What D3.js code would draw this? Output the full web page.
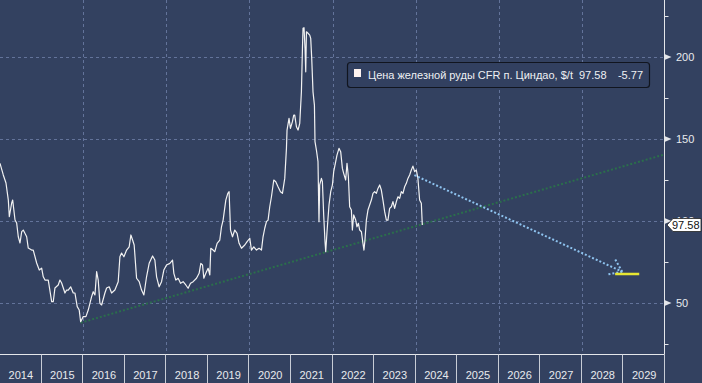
<!DOCTYPE html>
<html><head><meta charset="utf-8">
<script src="https://cdn.jsdelivr.net/npm/d3@7"></script>
<style>
html,body{margin:0;padding:0;background:#334160;}
svg{display:block;}
text{font-family:"Liberation Sans",Arial,sans-serif;}
</style></head>
<body>
<svg id="chart" width="702" height="383"></svg>
<script>
// ---- data (decimal year, $/t) ----
const years = [2014.000,2014.079,2014.144,2014.200,2014.224,2014.281,2014.305,2014.361,2014.401,2014.440,2014.481,2014.522,2014.560,2014.642,2014.680,2014.762,2014.800,2014.882,2014.945,2015.002,2015.041,2015.082,2015.161,2015.243,2015.281,2015.322,2015.401,2015.442,2015.483,2015.563,2015.603,2015.642,2015.700,2015.762,2015.803,2015.858,2015.906,2015.940,2016.002,2016.067,2016.123,2016.204,2016.243,2016.284,2016.325,2016.363,2016.404,2016.445,2016.524,2016.565,2016.627,2016.685,2016.764,2016.844,2016.885,2016.925,2016.981,2017.046,2017.108,2017.149,2017.190,2017.228,2017.286,2017.349,2017.406,2017.462,2017.526,2017.589,2017.671,2017.726,2017.767,2017.829,2017.887,2017.942,2018.007,2018.087,2018.151,2018.183,2018.231,2018.286,2018.344,2018.406,2018.471,2018.526,2018.584,2018.647,2018.728,2018.791,2018.832,2018.873,2018.904,2018.952,2019.007,2019.048,2019.072,2019.127,2019.168,2019.224,2019.288,2019.329,2019.368,2019.433,2019.481,2019.512,2019.546,2019.594,2019.649,2019.704,2019.752,2019.810,2019.889,2019.945,2020.010,2020.050,2020.106,2020.171,2020.233,2020.291,2020.329,2020.370,2020.411,2020.450,2020.490,2020.531,2020.587,2020.635,2020.690,2020.748,2020.796,2020.851,2020.892,2020.906,2020.954,2020.988,2021.036,2021.067,2021.091,2021.132,2021.171,2021.212,2021.252,2021.277,2021.291,2021.315,2021.339,2021.356,2021.373,2021.411,2021.452,2021.476,2021.500,2021.531,2021.565,2021.579,2021.613,2021.651,2021.675,2021.692,2021.733,2021.757,2021.788,2021.820,2021.837,2021.868,2021.916,2021.957,2021.998,2022.029,2022.077,2022.108,2022.156,2022.197,2022.238,2022.269,2022.317,2022.349,2022.382,2022.413,2022.454,2022.478,2022.510,2022.558,2022.589,2022.623,2022.654,2022.695,2022.733,2022.757,2022.781,2022.815,2022.853,2022.894,2022.935,2022.974,2023.014,2023.055,2023.094,2023.135,2023.175,2023.214,2023.255,2023.296,2023.334,2023.375,2023.416,2023.454,2023.495,2023.536,2023.575,2023.615,2023.656,2023.695,2023.736,2023.776,2023.815,2023.856,2023.897,2023.935,2023.976,2024.017,2024.055,2024.096,2024.137,2024.161];
const prices = [135.2,128.1,123.2,112.8,102.6,111.0,112.8,100.6,98.8,90.4,86.6,93.5,94.5,90.4,83.5,82.3,82.3,74.4,70.1,71.3,66.0,64.0,64.0,50.8,50.8,59.2,61.0,64.0,62.2,56.1,57.9,57.9,59.9,56.1,56.1,47.8,45.7,38.6,41.7,41.7,45.7,53.9,56.9,54.9,69.1,64.0,49.8,48.8,56.1,59.2,59.9,56.1,57.9,63.0,78.2,80.5,78.2,82.3,84.3,91.5,88.4,85.4,65.1,63.0,57.9,54.9,66.0,74.2,78.7,76.2,66.0,59.9,63.0,70.1,73.2,74.2,76.2,68.1,64.0,65.1,62.0,63.0,61.0,59.0,62.0,63.0,65.1,68.1,74.2,73.2,65.1,68.1,71.2,67.1,83.4,82.3,81.3,86.4,88.4,96.5,100.6,112.8,116.9,117.9,94.5,90.4,94.5,92.5,86.4,83.4,85.4,87.4,89.5,82.3,84.3,82.3,83.4,82.3,90.4,95.6,99.6,100.6,108.7,114.8,125.0,124.0,120.9,117.9,116.9,126.0,144.3,155.5,162.6,156.5,160.6,164.6,164.6,157.5,155.5,159.6,178.8,205.3,217.5,217.9,205.3,191.0,215.4,214.5,213.4,211.4,199.2,178.8,170.7,148.4,143.3,136.2,99.6,122.0,126.0,124.0,103.7,87.4,81.3,93.5,109.8,117.9,122.0,130.1,136.2,140.2,144.3,142.3,132.1,129.1,125.0,135.2,127.0,108.7,106.7,94.5,103.7,100.6,96.5,98.6,94.5,93.5,86.4,82.3,88.4,100.6,106.7,109.8,112.8,116.9,117.9,116.9,119.9,122.0,118.9,112.8,105.7,100.6,100.6,107.7,108.7,111.8,107.7,111.8,114.8,113.8,117.9,116.9,120.9,123.0,126.0,128.1,131.1,133.5,130.1,131.1,126.0,112.8,110.8,97.58];

const yearLabels = [2014,2015,2016,2017,2018,2019,2020,2021,2022,2023,2024,2025,2026,2027,2028,2029];
const gridYears = [2016,2018,2020,2022,2024,2026,2028];
const yTicks = [50,100,150,200];
const yMinorTicks = [25,75,125,175,225];

const trendLine = [[2015.94,38.0],[2029.96,140.4]];
const forecastArrow = [[2023.97,128.0],[2028.97,69.1]];
const targetLevel = [[2028.80,67.7],[2029.38,67.7]];

const seriesName = "Цена железной руды CFR п. Циндао, $/t";
const lastValue = "97.58";
const changeValue = "-5.77";

// ---- layout ----
const W = 702, H = 383, plotR = 664.5, plotB = 354.5;
const svg = d3.select("#chart");
const x = d3.scaleLinear().domain([2014,2030]).range([0,665]);
const y = d3.scaleLinear().domain([18.3,234.8]).range([355,0]);

svg.append("rect").attr("width",W).attr("height",H).attr("fill","#334160");

const clip = svg.append("clipPath").attr("id","plotclip").append("rect")
  .attr("x",0).attr("y",0).attr("width",plotR).attr("height",plotB);

const grid = svg.append("g").attr("stroke","#63739a").attr("stroke-width",1).attr("stroke-dasharray","3,3");
grid.selectAll("line.h").data(yTicks).join("line")
  .attr("x1",0).attr("x2",plotR).attr("y1",d=>Math.round(y(d))+0.5).attr("y2",d=>Math.round(y(d))+0.5);
grid.selectAll("line.v").data(gridYears).join("line")
  .attr("x1",d=>Math.round(x(d))+0.5).attr("x2",d=>Math.round(x(d))+0.5).attr("y1",0).attr("y2",plotB);

const plot = svg.append("g").attr("clip-path","url(#plotclip)");

// trend line (green dotted)
plot.append("line")
  .attr("x1",x(trendLine[0][0])).attr("y1",y(trendLine[0][1]))
  .attr("x2",x(trendLine[1][0])).attr("y2",y(trendLine[1][1]))
  .attr("stroke","#2b6e4c").attr("stroke-width",2).attr("stroke-dasharray","2,2");

// price line
const data = years.map((t,i)=>[t,prices[i]]);
plot.append("path").datum(data)
  .attr("d",d3.line().x(d=>x(d[0])).y(d=>y(d[1])))
  .attr("fill","none").attr("stroke","#f2f2f2").attr("stroke-width",1.2).attr("stroke-linejoin","round");

// forecast arrow (light blue dotted)
const ax1 = x(forecastArrow[0][0]), ay1 = y(forecastArrow[0][1]);
const ax2 = x(forecastArrow[1][0]), ay2 = y(forecastArrow[1][1]);
const ang = Math.atan2(ay2-ay1, ax2-ax1);
const headLen = 14, spread = 0.62;
const blue = "#8ec3ef";
plot.append("line").attr("x1",ax1).attr("y1",ay1).attr("x2",ax2).attr("y2",ay2)
  .attr("stroke",blue).attr("stroke-width",2).attr("stroke-dasharray","2,2");
[ -spread, spread ].forEach(s=>{
  plot.append("line").attr("x1",ax2).attr("y1",ay2)
    .attr("x2",ax2 - headLen*Math.cos(ang+s)).attr("y2",ay2 - headLen*Math.sin(ang+s))
    .attr("stroke",blue).attr("stroke-width",2).attr("stroke-dasharray","2,2");
});

// target level (yellow)
plot.append("line")
  .attr("x1",x(targetLevel[0][0])).attr("y1",y(targetLevel[0][1]))
  .attr("x2",x(targetLevel[1][0])).attr("y2",y(targetLevel[1][1]))
  .attr("stroke","#e6e632").attr("stroke-width",2.5);

// frame lines
const fg = "#e4e6ea";
svg.append("line").attr("x1",0).attr("x2",plotR).attr("y1",plotB).attr("y2",plotB).attr("stroke",fg).attr("stroke-width",1);
svg.append("line").attr("x1",plotR).attr("x2",plotR).attr("y1",0).attr("y2",plotB).attr("stroke",fg).attr("stroke-width",1);

// bottom axis: year bands
const xb = svg.append("g");
xb.selectAll("line").data(yearLabels.slice(1).concat([2030])).join("line")
  .attr("x1",d=>Math.round(x(d))-0.5).attr("x2",d=>Math.round(x(d))-0.5)
  .attr("y1",plotB).attr("y2",H).attr("stroke","#c8ccd6").attr("stroke-width",1);
xb.selectAll("text").data(yearLabels).join("text")
  .attr("x",d=>x(d+0.5)).attr("y",379).attr("text-anchor","middle")
  .attr("fill","#e8eaee").attr("font-size",11).text(d=>d);

// right axis
const ya = svg.append("g");
ya.selectAll("line").data(yMinorTicks).join("line")
  .attr("x1",plotR).attr("x2",plotR+4).attr("y1",d=>Math.round(y(d))+0.5).attr("y2",d=>Math.round(y(d))+0.5)
  .attr("stroke",fg);
ya.selectAll("path").data(yTicks).join("path")
  .attr("d",d=>{const yy=y(d); return `M${plotR},${yy-3}L${plotR+7},${yy}L${plotR},${yy+3}Z`;})
  .attr("fill",fg);
ya.selectAll("text").data(yTicks).join("text")
  .attr("x",676).attr("y",d=>y(d)+4).attr("fill","#e8eaee").attr("font-size",11).text(d=>d);

// last value tag
const ly = y(+lastValue);
svg.append("path")
  .attr("d",`M667,${ly}L673,${ly-6.5}L701,${ly-6.5}L701,${ly+6.5}L673,${ly+6.5}Z`)
  .attr("fill","#ffffff").attr("stroke","#222").attr("stroke-width",0.8);
svg.append("text").attr("x",672).attr("y",ly+4).attr("fill","#111").attr("font-size",11).text(lastValue);

// legend
const lg = svg.append("g");
lg.append("rect").attr("x",347.5).attr("y",62.5).attr("width",302).attr("height",25).attr("rx",3)
  .attr("fill","#324060").attr("stroke","#11151f").attr("stroke-width",1.2);
lg.append("rect").attr("x",354).attr("y",69).attr("width",7).attr("height",8).attr("fill","#fff4f0");
lg.append("text").attr("x",368).attr("y",78.5).attr("fill","#eef0f3").attr("font-size",11).text(seriesName);
lg.append("text").attr("x",579).attr("y",78.5).attr("fill","#eef0f3").attr("font-size",11).text(lastValue);
lg.append("text").attr("x",643).attr("y",78.5).attr("text-anchor","end").attr("fill","#eef0f3").attr("font-size",11).text(changeValue);
</script>
</body></html>
